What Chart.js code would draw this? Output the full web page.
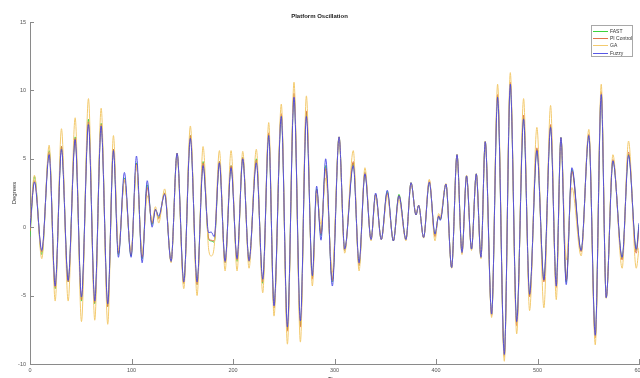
<!DOCTYPE html>
<html>
<head>
<meta charset="utf-8">
<script src="https://cdn.jsdelivr.net/npm/chart.js@4"></script>
<style>
  html, body { margin: 0; padding: 0; background: #fff; overflow: hidden; width: 640px; height: 378px; }
  canvas { display: block; }
</style>
</head>
<body>
<canvas id="c" width="660" height="390"></canvas>
<script>
// Time stamps of the turning points
const time = [0, 4.4, 11.6, 18.9, 24.8, 31, 37.6, 44.5, 50.7, 57.6, 63.8, 70.1, 76.6, 82.2, 87.1, 93, 99.6, 104.9, 110.5, 115.5,
  120.3, 123.6, 126.8, 132.7, 139, 144.9, 151.5, 158, 164.6, 170.5, 176, 178.5, 181.5, 186.6, 192.2, 198.1, 204, 209.6, 215.8,
  223, 229.3, 235.2, 240.4, 247.6, 253.6, 260.1, 266.4, 272.3, 278.2, 282.4, 286.7, 291.3, 297.9, 304.5, 310, 318.5, 324.2,
  330, 336, 340.5, 346.1, 352, 358, 363.5, 370.4, 375.4, 380.3, 382.9, 387.8, 393.4, 399, 402.6, 404.2, 409.8, 415.4, 420.7,
  425.6, 430.1, 435, 439.7, 444.3, 448.5, 454.8, 460.7, 467.3, 473.2, 479.5, 486.3, 492.2, 499.4, 506.3, 512.9, 518.5, 523.1,
  528.3, 533.9, 543, 550.6, 556.9, 562.8, 567.7, 574.3, 583.4, 589.7, 597.3, 600];

const fuzzy = [0.0, 3.3, -1.7, 5.3, -4.3, 5.7, -3.9, 6.4, -5.1, 7.5, -5.4, 7.4, -5.6, 5.6, -2.2, 4.0, -2.2, 5.2, -2.6, 3.4,
  0.0, 1.3, 0.8, 2.4, -2.5, 5.4, -4.0, 6.5, -4.0, 4.5, -0.4, -0.35, -0.7, 4.7, -2.5, 4.35, -2.3, 5.0, -2.45,
  4.7, -3.8, 6.7, -5.75, 8.1, -7.3, 9.5, -6.85, 8.1, -3.55, 3.0, -0.95, 5.0, -4.3, 6.6, -1.6, 4.5, -2.6,
  3.9, -0.9, 2.5, -0.9, 2.7, -1.0, 2.3, -0.9, 3.25, 0.9, 1.6, -0.75, 3.3, -0.5, 0.8, 0.5, 3.15, -2.95, 5.3,
  -1.85, 3.75, -1.6, 3.9, -2.2, 6.25, -6.35, 9.5, -9.3, 10.45, -6.9, 7.9, -4.9, 5.6, -3.85, 7.3, -4.3, 6.55,
  -4.2, 4.35, -1.7, 6.7, -7.9, 9.7, -5.15, 4.85, -2.2, 5.25, -1.6, 0.3];

const ga = [0.3, 3.8, -2.3, 6.0, -5.4, 7.2, -5.4, 8.0, -6.9, 9.4, -6.8, 8.7, -7.1, 6.7, -1.7, 3.5, -1.9, 4.5, -2.0, 2.3,
  0.5, 1.5, 0.3, 2.8, -2.6, 5.3, -4.5, 7.4, -5.0, 5.9, -1.6, -2.1, -1.4, 5.6, -3.2, 5.6, -3.2, 5.55, -3.0,
  5.7, -4.8, 7.65, -6.5, 9.0, -8.55, 10.6, -8.4, 9.6, -4.3, 2.5, 0.2, 3.6, -3.3, 6.6, -1.9, 5.6, -3.2,
  4.35, -1.0, 2.3, -0.9, 2.3, -0.9, 2.0, -1.0, 3.2, 1.0, 1.6, -0.8, 3.5, -1.0, 1.0, 0.8, 3.2, -3.0, 5.3,
  -2.0, 3.8, -1.7, 3.9, -2.3, 6.3, -6.6, 10.45, -9.8, 11.3, -7.8, 9.4, -6.1, 7.3, -5.9, 8.9, -5.3, 6.5,
  -2.4, 2.9, -2.1, 7.15, -8.6, 10.45, -5.2, 5.3, -3.0, 6.3, -3.0, -1.5];

const piControl = [-0.3, 3.4, -1.8, 5.5, -4.4, 5.9, -4.0, 6.5, -5.3, 7.7, -5.5, 7.5, -5.8, 5.7, -1.9, 3.5, -2.0, 4.6, -2.2, 2.9,
  0.3, 1.3, 0.6, 2.5, -2.5, 5.4, -4.1, 6.7, -4.2, 4.7, -0.8, -0.95, -1.0, 4.8, -2.6, 4.5, -2.4, 5.1, -2.5,
  4.9, -4.0, 6.9, -5.9, 8.3, -7.6, 9.8, -7.3, 8.5, -3.8, 2.7, -0.5, 4.3, -3.9, 6.6, -1.7, 4.8, -2.8,
  4.0, -0.9, 2.4, -0.9, 2.5, -1.0, 2.3, -0.9, 3.25, 0.9, 1.6, -0.75, 3.4, -0.7, 0.85, 0.6, 3.15, -2.95, 5.3,
  -1.9, 3.75, -1.6, 3.9, -2.2, 6.25, -6.45, 9.7, -9.45, 10.6, -7.2, 8.2, -5.1, 5.8, -4.0, 7.5, -4.4, 6.55,
  -3.9, 4.1, -1.8, 6.8, -8.1, 9.9, -5.15, 4.95, -2.4, 5.5, -1.9, 0.0];

const fast = [-0.7, 3.7, -2.0, 5.6, -4.5, 5.9, -4.0, 6.6, -5.4, 7.9, -5.6, 7.6, -5.8, 5.7, -2.0, 3.6, -2.1, 4.7, -2.3, 3.1,
  0.2, 1.3, 0.7, 2.5, -2.5, 5.4, -4.1, 6.7, -4.2, 4.8, -0.9, -1.0, -1.1, 4.8, -2.6, 4.5, -2.5, 5.1, -2.5,
  5.0, -4.1, 6.8, -5.9, 8.2, -7.5, 9.7, -7.2, 8.4, -3.7, 2.8, -0.6, 4.5, -4.0, 6.6, -1.7, 4.7, -2.8,
  4.0, -0.9, 2.4, -0.9, 2.6, -1.0, 2.4, -0.9, 3.25, 0.9, 1.6, -0.75, 3.3, -0.6, 0.8, 0.55, 3.15, -2.95, 5.3,
  -1.85, 3.75, -1.6, 3.9, -2.2, 6.25, -6.4, 9.6, -9.4, 10.5, -7.0, 8.0, -5.0, 5.7, -3.9, 7.4, -4.3, 6.55,
  -4.0, 4.2, -1.75, 6.75, -8.0, 9.8, -5.15, 4.9, -2.3, 5.35, -1.7, 0.2];

const xTicks = [0, 100, 200, 300, 400, 500, 600];
const yTicks = [-10, -5, 0, 5, 10, 15];

const FONT = "'Liberation Sans', Arial, Helvetica, sans-serif";
const toPts = arr => time.map((t, i) => ({ x: t, y: arr[i] }));

const innerTicks = {
  id: 'innerTicks',
  afterDraw(chart) {
    const { ctx, chartArea: a, scales: { x, y } } = chart;
    ctx.save();
    ctx.strokeStyle = '#8a8a8a';
    ctx.lineWidth = 1;
    ctx.beginPath();
    x.ticks.forEach(t => {
      const px = Math.round(x.getPixelForValue(t.value)) + 0.5;
      ctx.moveTo(px, a.bottom); ctx.lineTo(px, a.bottom - 5);
    });
    y.ticks.forEach(t => {
      const py = Math.round(y.getPixelForValue(t.value)) + 0.5;
      ctx.moveTo(a.left, py); ctx.lineTo(a.left + 4, py);
    });
    ctx.stroke();

    // legend box inside the plot, top right
    const bx = 591.5, by = 25.5, bw = 41, bh = 31;
    ctx.fillStyle = '#ffffff';
    ctx.fillRect(bx, by, bw, bh);
    ctx.strokeStyle = '#a8a8a8';
    ctx.strokeRect(bx, by, bw, bh);
    ctx.font = '5px ' + FONT;
    ctx.textBaseline = 'middle';
    ctx.textAlign = 'left';
    chart.data.datasets.forEach((ds, i) => {
      const ry = Math.round(by + 5.5 + i * 7.2) + 0.5;
      ctx.strokeStyle = ds.borderColor;
      ctx.lineWidth = 1;
      ctx.beginPath();
      ctx.moveTo(593, ry); ctx.lineTo(608, ry);
      ctx.stroke();
      ctx.fillStyle = '#333';
      ctx.fillText(ds.label, 610, ry);
    });
    ctx.restore();
  }
};

const common = { pointRadius: 0, borderWidth: 1, cubicInterpolationMode: 'monotone', fill: false };

new Chart(document.getElementById('c'), {
  type: 'line',
  data: {
    datasets: [
      { ...common, label: 'FAST', data: toPts(fast), borderColor: 'rgb(60,210,60)', order: 3 },
      { ...common, label: 'PI Control', data: toPts(piControl), borderColor: 'rgb(225,115,75)', order: 2 },
      { ...common, label: 'GA', data: toPts(ga), borderColor: 'rgb(243,202,110)', order: 1 },
      { ...common, label: 'Fuzzy', data: toPts(fuzzy), borderColor: 'rgba(70,70,228,0.9)', order: 0 }
    ]
  },
  options: {
    responsive: false,
    animation: false,
    devicePixelRatio: 1,
    layout: { padding: { left: 0, right: 21, top: 0, bottom: 0 } },
    plugins: {
      legend: { display: false },
      tooltip: { enabled: false },
      title: {
        display: true,
        text: 'Platform Oscillation',
        color: '#222',
        font: { family: FONT, size: 6, weight: 'bold' },
        padding: { top: 12.4, bottom: 2.4 }
      }
    },
    scales: {
      x: {
        type: 'linear',
        min: 0, max: 600,
        afterBuildTicks: s => { s.ticks = xTicks.map(v => ({ value: v })); },
        afterFit: s => { s.height = 26; },
        grid: { display: true, drawOnChartArea: false, drawTicks: false },
        border: { display: true, color: '#8a8a8a', width: 1 },
        ticks: { color: '#555', font: { family: FONT, size: 5.5 }, padding: 3, maxRotation: 0, autoSkip: false },
        title: { display: true, text: 'Time', color: '#333', font: { family: FONT, size: 6 }, padding: { top: 0, bottom: 7.4 } }
      },
      y: {
        type: 'linear',
        min: -10, max: 15,
        afterBuildTicks: s => { s.ticks = yTicks.map(v => ({ value: v })); },
        afterFit: s => { s.width = 30; },
        grid: { display: true, drawOnChartArea: false, drawTicks: false },
        border: { display: true, color: '#8a8a8a', width: 1 },
        ticks: { color: '#555', font: { family: FONT, size: 5.5 }, padding: 4, autoSkip: false },
        title: { display: true, text: 'Degrees', color: '#333', font: { family: FONT, size: 6 }, padding: { top: 10.4, bottom: 0 } }
      }
    }
  },
  plugins: [innerTicks]
});
</script>
</body>
</html>
